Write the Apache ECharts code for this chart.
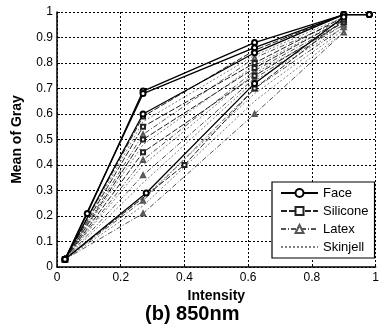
<!DOCTYPE html>
<html>
<head>
<meta charset="utf-8">
<script src="https://cdn.jsdelivr.net/npm/echarts@6/dist/echarts.min.js"></script>
<style>
  html, body { margin: 0; padding: 0; background: #fff; }
  #chart { width: 382px; height: 327px; }
</style>
</head>
<body>
<div id="chart"></div>
<script>
// tick labels / axis ranges
const xTicks = [0, 0.2, 0.4, 0.6, 0.8, 1];
const yTicks = [0, 0.1, 0.2, 0.3, 0.4, 0.5, 0.6, 0.7, 0.8, 0.9, 1];
const legendNames = ['Face', 'Silicone', 'Latex', 'Skinjell'];

// each entry is one measured curve: [intensity, mean of gray]
const faceLines = [
  [[0.025, 0.03], [0.095, 0.21], [0.27, 0.69], [0.62, 0.88], [0.9, 0.99], [0.98, 0.99]],
  [[0.025, 0.03], [0.27, 0.68], [0.62, 0.86], [0.9, 0.99], [0.98, 0.99]],
  [[0.025, 0.03], [0.27, 0.60], [0.62, 0.84], [0.9, 0.99], [0.98, 0.99]],
  [[0.025, 0.03], [0.28, 0.29], [0.62, 0.72], [0.9, 0.98]]
];
const siliconeLines = [
  [[0.025, 0.03], [0.27, 0.59], [0.62, 0.85], [0.9, 0.99]],
  [[0.025, 0.03], [0.27, 0.55], [0.62, 0.80], [0.9, 0.98]],
  [[0.025, 0.03], [0.27, 0.50], [0.62, 0.78], [0.9, 0.97]],
  [[0.025, 0.03], [0.27, 0.45], [0.62, 0.75], [0.9, 0.96]],
  [[0.025, 0.03], [0.4, 0.40], [0.62, 0.70], [0.9, 0.97]]
];
const latexLines = [
  [[0.025, 0.03], [0.27, 0.52], [0.62, 0.82], [0.9, 0.97]],
  [[0.025, 0.03], [0.27, 0.42], [0.62, 0.77], [0.9, 0.96]],
  [[0.025, 0.03], [0.27, 0.36], [0.62, 0.74], [0.9, 0.95]],
  [[0.025, 0.03], [0.27, 0.26], [0.62, 0.70], [0.9, 0.94]],
  [[0.025, 0.03], [0.27, 0.21], [0.62, 0.60], [0.9, 0.92]]
];
const skinjellLines = [
  [[0.025, 0.03], [0.27, 0.57], [0.62, 0.83], [0.9, 0.98]],
  [[0.025, 0.03], [0.27, 0.48], [0.62, 0.79], [0.9, 0.97]],
  [[0.025, 0.03], [0.27, 0.40], [0.62, 0.76], [0.9, 0.95]],
  [[0.025, 0.03], [0.27, 0.33], [0.62, 0.73], [0.9, 0.94]],
  [[0.025, 0.03], [0.27, 0.27], [0.62, 0.68], [0.9, 0.93]],
  [[0.025, 0.03], [0.27, 0.24], [0.62, 0.65], [0.9, 0.92]]
];

const myChart = echarts.init(document.getElementById('chart'));
const FONT = '"Liberation Sans", Arial, sans-serif';

function makeSeries(name, lines, style) {
  return lines.map(line => ({
    name: name,
    type: 'line',
    data: line,
    symbol: style.symbol,
    symbolSize: style.size,
    showSymbol: style.symbol !== 'none',
    silent: true,
    z: style.z,
    itemStyle: { color: style.color, borderColor: style.color, borderWidth: 1 },
    lineStyle: { color: style.color, width: style.width, type: style.type }
  }));
}

const series = [
  ...makeSeries('Skinjell', skinjellLines, { symbol: 'none', size: 0, color: '#808080', width: 1, type: [2, 2], z: 2 }),
  ...makeSeries('Latex', latexLines, { symbol: 'emptyTriangle', size: 4, color: '#555', width: 1, type: [5, 2, 1, 2], z: 3 }),
  ...makeSeries('Silicone', siliconeLines, { symbol: 'emptyRect', size: 4, color: '#222', width: 1, type: [6, 2], z: 4 }),
  ...makeSeries('Face', faceLines, { symbol: 'emptyCircle', size: 5, color: '#000', width: 1.3, type: 'solid', z: 5 })
];

const options = {
  animation: false,
  backgroundColor: '#fff',
  title: {
    text: '(b) 850nm',
    left: 145,
    top: 304,
    padding: 0,
    textStyle: { fontFamily: FONT, fontSize: 20, fontWeight: 'bold', color: '#000' }
  },
  legend: {
    data: [
      { name: legendNames[0] },
      { name: legendNames[1] },
      { name: legendNames[2] },
      { name: legendNames[3], itemStyle: { opacity: 0 } }
    ],
    orient: 'vertical',
    left: 272,
    top: 182,
    padding: [4, 6, 4, 8],
    itemWidth: 37,
    itemHeight: 10,
    itemGap: 4,
    backgroundColor: '#fff',
    borderColor: '#000',
    borderWidth: 1.2,
    borderRadius: 0,
    selectedMode: false,
    textStyle: { fontFamily: FONT, fontSize: 13, color: '#000', lineHeight: 14 }
  },
  grid: { left: 57, right: 1, top: 12, bottom: 60 },
  xAxis: {
    type: 'value',
    min: xTicks[0],
    max: xTicks[xTicks.length - 1],
    interval: 0.2,
    name: 'Intensity',
    nameLocation: 'middle',
    nameGap: 19,
    nameTextStyle: { fontFamily: FONT, fontSize: 14, fontWeight: 'bold', color: '#000' },
    axisLine: { lineStyle: { color: '#000', width: 1.5 } },
    axisTick: { inside: true, length: 3, lineStyle: { color: '#000' } },
    axisLabel: { fontFamily: FONT, fontSize: 12, color: '#000', margin: 5 },
    splitLine: { show: true, lineStyle: { color: '#000', type: [2, 2], width: 1 } }
  },
  yAxis: {
    type: 'value',
    min: yTicks[0],
    max: yTicks[yTicks.length - 1],
    interval: 0.1,
    name: 'Mean of Gray',
    nameLocation: 'middle',
    nameGap: 33,
    nameTextStyle: { fontFamily: FONT, fontSize: 14, fontWeight: 'bold', color: '#000' },
    axisLine: { show: true, lineStyle: { color: '#000', width: 1.5 } },
    axisTick: { show: true, inside: true, length: 3, lineStyle: { color: '#000' } },
    axisLabel: { fontFamily: FONT, fontSize: 12, color: '#000', margin: 4 },
    splitLine: { show: true, lineStyle: { color: '#000', type: [2, 2], width: 1 } }
  },
  series: series
};

options && myChart.setOption(options);
</script>
</body>
</html>
